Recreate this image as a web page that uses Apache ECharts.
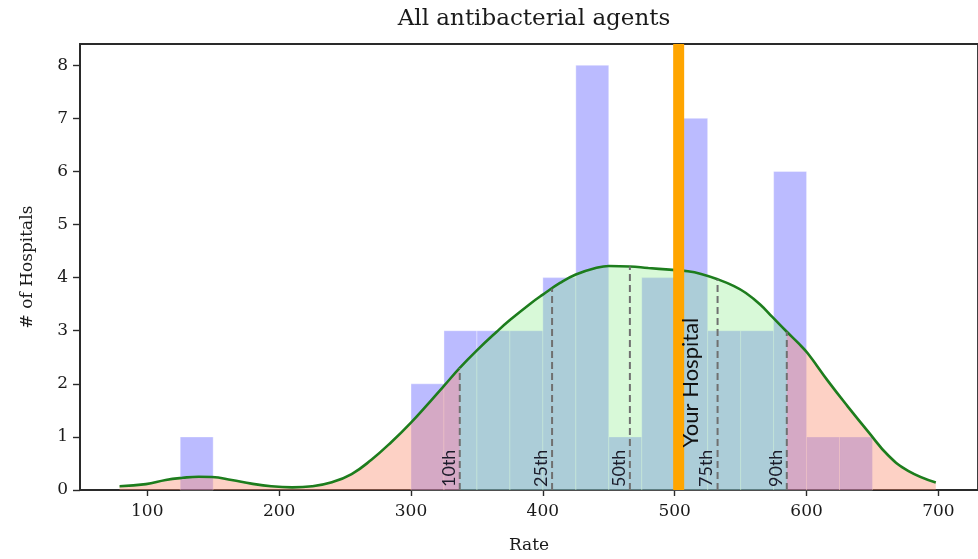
<!DOCTYPE html>
<html><head><meta charset="utf-8">
<script src="https://cdn.jsdelivr.net/npm/echarts@6/dist/echarts.min.js"></script>
<style>html,body{margin:0;padding:0;background:#fff}#c{width:978px;height:559px}</style>
</head><body><div id="c"></div>
<script>
// ---- data ----
const binStarts = [125,300,325,350,375,400,425,450,475,500,525,550,575,600,625];
const binWidth = 25;
const binCounts = [1,2,3,3,3,4,8,1,4,7,3,3,6,1,1];
const kdeX = [79,99,114,127,139,149,164,179,194,210,225,240,255,270,285,300,315,325,337,350,365,375,390,400,413,425,440,450,466,480,496,510,520,532.5,545,554,565,574,585,594,601,616,631,647,662,677,698];
const kdeY = [0.07,0.11,0.19,0.23,0.25,0.245,0.19,0.12,0.07,0.05,0.07,0.145,0.30,0.57,0.90,1.27,1.68,1.96,2.30,2.63,2.98,3.20,3.50,3.68,3.90,4.06,4.18,4.22,4.21,4.18,4.15,4.12,4.07,3.97,3.84,3.71,3.49,3.26,2.98,2.76,2.57,2.06,1.58,1.09,0.65,0.36,0.14];
const pctNames = ['10th','25th','50th','75th','90th'];
const pctValues = [337,407,466,532.5,585];
const pctHeights = [2.30,3.79,4.21,3.97,2.98];
const hospitalRate = 503;
const hospitalLabel = 'Your Hospital';
const xTicks = [100,200,300,400,500,600,700];
const yTicks = [0,1,2,3,4,5,6,7,8];
const titleText = 'All antibacterial agents';
const xName = 'Rate';
const yName = '# of Hospitals';

// ---- build ----
const kde = kdeX.map((x,i)=>[x,kdeY[i]]);
const p10 = pctValues[0], p90 = pctValues[pctValues.length-1];
const segLeft = kde.filter(p=>p[0]<=p10);
const segMid = kde.filter(p=>p[0]>=p10 && p[0]<=p90);
const segRight = kde.filter(p=>p[0]>=p90);

const serif = 'DejaVu Serif';
const sans = 'Lato';
const SMOOTH = 0.45;
const chart = echarts.init(document.getElementById('c'), null, {renderer:'canvas'});

function areaSeries(data, color){
  return {type:'line', data, smooth:SMOOTH, showSymbol:false, z:2, silent:true,
    lineStyle:{width:0, opacity:0}, areaStyle:{color, opacity:1}, animation:false};
}

chart.setOption({
  animation:false,
  graphic:[{type:'text', x:534, y:8, style:{text:titleText, fontFamily:serif, fontSize:23, fill:'#1a1a1a', align:'center', textAlign:'center'}}],
  grid:{left:80, right:-6, top:44, bottom:67, show:true, borderColor:'#2a2a2a', borderWidth:1.8, containLabel:false},
  xAxis:{type:'value', min:49, max:730,
    name:xName, nameLocation:'middle', nameGap:47, nameTextStyle:{fontFamily:serif, fontSize:17, color:'#1a1a1a'},
    axisLine:{show:true, lineStyle:{color:'#2a2a2a', width:1.8}},
    axisTick:{show:true, length:6, customValues:xTicks, lineStyle:{color:'#2a2a2a', width:1.4}},
    axisLabel:{customValues:xTicks, fontFamily:serif, fontSize:17, color:'#1a1a1a', margin:13},
    splitLine:{show:false}},
  yAxis:{type:'value', min:0, max:8.4,
    name:yName, nameLocation:'middle', nameGap:44, nameTextStyle:{fontFamily:serif, fontSize:17, color:'#1a1a1a'},
    axisLine:{show:true, lineStyle:{color:'#2a2a2a', width:1.8}},
    axisTick:{show:true, length:7, customValues:yTicks, lineStyle:{color:'#2a2a2a', width:1.4}},
    axisLabel:{customValues:yTicks, fontFamily:serif, fontSize:17, color:'#1a1a1a', margin:12},
    splitLine:{show:false}},
  series:[
    {type:'custom', z:1, silent:true,
      encode:{x:[0,1], y:2},
      data: binStarts.map((s,i)=>[s, s+binWidth, binCounts[i]]),
      renderItem:(params, api)=>{
        const a = api.coord([api.value(0), api.value(2)]);
        const b = api.coord([api.value(1), 0]);
        return {type:'rect', shape:{x:a[0], y:a[1], width:b[0]-a[0], height:b[1]-a[1]},
          style:{fill:'rgba(0,0,255,0.265)', stroke:'rgba(255,255,255,0.35)', lineWidth:1}};
      }},
    areaSeries(segLeft, 'rgba(250,140,110,0.4)'),
    areaSeries(segMid, 'rgba(144,238,144,0.35)'),
    areaSeries(segRight, 'rgba(250,140,110,0.4)'),
    {type:'line', data:kde, smooth:SMOOTH, showSymbol:false, z:3, silent:true,
      lineStyle:{color:'#1d7d1d', width:2.6}},
    {type:'custom', z:4, silent:true,
      encode:{x:0, y:1},
      data: pctValues.map((v,i)=>[v, pctHeights[i]]),
      renderItem:(params, api)=>{
        const top = api.coord([api.value(0), api.value(1)]);
        const bot = api.coord([api.value(0), 0]);
        return {type:'group', children:[
          {type:'line', shape:{x1:bot[0], y1:bot[1], x2:top[0], y2:top[1]},
            style:{stroke:'#707070', lineWidth:2, lineDash:[7,4]}},
          {type:'text', x:bot[0]-2, y:bot[1]-3, rotation:Math.PI/2,
            style:{text:pctNames[params.dataIndex], fontFamily:sans, fontSize:18, fill:'#1c1c2a', align:'left', verticalAlign:'bottom'}}
        ]};
      }},
    {type:'custom', z:5, silent:true,
      encode:{x:0, y:1},
      data:[[hospitalRate, 8.4]],
      renderItem:(params, api)=>{
        const top = api.coord([api.value(0), api.value(1)]);
        const bot = api.coord([api.value(0), 0]);
        const lab = api.coord([api.value(0), 0.8]);
        return {type:'group', children:[
          {type:'line', shape:{x1:bot[0], y1:bot[1], x2:top[0], y2:top[1]},
            style:{stroke:'#ffa500', lineWidth:11}},
          {type:'text', x:lab[0]+1, y:lab[1], rotation:Math.PI/2,
            style:{text:hospitalLabel, fontFamily:sans, fontSize:22, fill:'#111', align:'left', verticalAlign:'top'}}
        ]};
      }}
  ]
});
</script>
</body></html>
